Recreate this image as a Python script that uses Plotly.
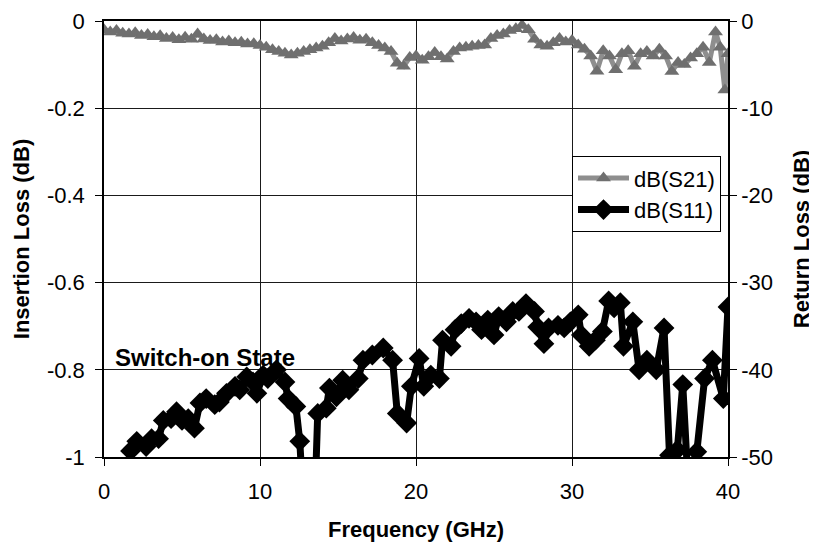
import plotly.graph_objects as go

# ---------------- data ----------------
s21_freq = [0.0, 0.4, 0.8, 1.2, 1.6, 2.0, 2.4, 2.8, 3.2, 3.6, 4.0, 4.4, 4.8, 5.2, 5.6,
            6.0, 6.4, 6.8, 7.2, 7.6, 8.0, 8.4, 8.8, 9.2, 9.6, 10.0, 10.4, 10.8, 11.2,
            11.6, 12.0, 12.4, 12.8, 13.2, 13.6, 14.0, 14.4, 14.8, 15.2, 15.6, 16.0,
            16.4, 16.8, 17.2, 17.6, 18.0, 18.4, 18.8, 19.2, 19.6, 20.0, 20.4, 20.8,
            21.2, 21.6, 22.0, 22.4, 22.8, 23.2, 23.6, 24.0, 24.4, 24.8, 25.2, 25.6,
            26.0, 26.4, 26.8, 27.2, 27.6, 28.0, 28.4, 28.8, 29.2, 29.6, 30.0, 30.4,
            30.8, 31.2, 31.6, 32.0, 32.4, 32.8, 33.2, 33.6, 34.0, 34.4, 34.8, 35.2,
            35.6, 36.0, 36.4, 36.8, 37.2, 37.6, 38.0, 38.4, 38.8, 39.2, 39.5, 39.8, 40.0]
s21_db = [-0.020, -0.025, -0.022, -0.028, -0.030, -0.027, -0.033, -0.031, -0.036, -0.034,
          -0.040, -0.038, -0.043, -0.037, -0.042, -0.030, -0.041, -0.045, -0.043, -0.048,
          -0.046, -0.050, -0.049, -0.053, -0.052, -0.056, -0.060, -0.066, -0.070, -0.074,
          -0.078, -0.074, -0.070, -0.066, -0.062, -0.058, -0.050, -0.040, -0.046, -0.041,
          -0.038, -0.044, -0.042, -0.050, -0.056, -0.062, -0.070, -0.097, -0.104, -0.084,
          -0.080, -0.090, -0.082, -0.072, -0.082, -0.087, -0.070, -0.062, -0.060, -0.058,
          -0.056, -0.055, -0.040, -0.033, -0.030, -0.022, -0.018, -0.010, -0.020, -0.042,
          -0.055, -0.058, -0.050, -0.040, -0.048, -0.045, -0.055, -0.065, -0.080, -0.115,
          -0.068, -0.080, -0.112, -0.075, -0.068, -0.104, -0.075, -0.070, -0.080, -0.065,
          -0.080, -0.116, -0.095, -0.100, -0.085, -0.075, -0.060, -0.095, -0.025, -0.060,
          -0.158, -0.075]

s11_freq = [1.2, 1.7, 2.1, 2.7, 3.05, 3.5, 3.8, 4.3, 4.65, 5.0, 5.4, 5.8, 6.15, 6.55, 7.1,
            7.4, 7.85, 8.4, 8.7, 9.15, 9.55, 9.8, 10.2, 10.5, 11.05, 11.6, 11.8, 12.3,
            12.55, 12.8, 13.5, 13.7, 14.25, 14.45, 14.9, 15.3, 15.7, 16.3, 16.6, 17.2,
            17.9, 18.5, 18.8, 19.4, 19.7, 20.2, 20.5, 20.95, 21.5, 21.7, 22.25, 22.5,
            22.9, 23.4, 23.85, 24.2, 24.6, 25.0, 25.3, 25.8, 26.2, 26.6, 27.05, 27.6,
            27.8, 28.2, 28.5, 29.1, 29.5, 29.9, 30.4, 30.6, 31.1, 31.5, 31.95, 32.35,
            32.7, 33.1, 33.3, 33.9, 34.3, 34.8, 35.4, 35.9, 36.25, 36.75, 37.1, 37.5,
            38.0, 38.5, 39.0, 39.7, 40.0]
s11_db = [-56.0, -49.3, -48.2, -48.8, -47.9, -47.9, -45.8, -45.6, -44.8, -45.8, -45.6,
          -46.7, -43.8, -43.3, -44.0, -43.7, -42.7, -41.9, -42.3, -40.8, -41.4, -42.7,
          -40.6, -41.0, -40.0, -41.4, -43.3, -44.2, -48.2, -56.0, -56.0, -45.0, -44.4,
          -42.1, -43.1, -41.2, -42.3, -41.0, -38.9, -38.3, -37.5, -38.9, -45.0, -46.1,
          -41.9, -38.7, -41.9, -40.6, -41.0, -36.6, -37.3, -35.4, -34.7, -34.1, -34.5,
          -35.4, -34.3, -36.0, -33.9, -34.5, -33.3, -33.3, -32.4, -33.3, -35.1, -37.0,
          -35.2, -34.9, -35.2, -34.5, -33.7, -36.0, -37.3, -36.6, -35.6, -32.1, -32.9,
          -32.3, -37.3, -34.5, -40.0, -38.9, -40.0, -35.2, -49.8, -49.2, -41.7, -55.0,
          -49.4, -41.0, -38.9, -43.3, -32.8]

x_ticks = [0, 10, 20, 30, 40]
x_tick_labels = ["0", "10", "20", "30", "40"]
left_ticks = [0, -0.2, -0.4, -0.6, -0.8, -1]
left_tick_labels = ["0", "-0.2", "-0.4", "-0.6", "-0.8", "-1"]
right_ticks = [0, -10, -20, -30, -40, -50]
right_tick_labels = ["0", "-10", "-20", "-30", "-40", "-50"]

FONT = "Liberation Sans, Arial, sans-serif"

fig = go.Figure()
fig.add_trace(go.Scatter(
    x=s21_freq, y=s21_db, name="dB(S21)", mode="lines+markers",
    line=dict(color="#8e8e8e", width=5),
    marker=dict(symbol="triangle-up", size=13, color="#6f6f6f"),
    yaxis="y",
))
fig.add_trace(go.Scatter(
    x=s11_freq, y=s11_db, name="dB(S11)", mode="lines+markers",
    line=dict(color="#000000", width=7),
    marker=dict(symbol="diamond", size=16, color="#000000"),
    yaxis="y2",
))

fig.add_annotation(
    x=0.58, y=-0.771, xref="x", yref="y", text="Switch-on State",
    showarrow=False, xanchor="left", yanchor="middle",
    font=dict(family=FONT, size=24, color="black", weight="bold"),
)

axis_common = dict(
    showline=True, linecolor="black", linewidth=1.5,
    ticks="outside", ticklen=7, tickcolor="black",
    tickfont=dict(family=FONT, size=22, color="black"),
    zeroline=False, automargin=False,
)

# the page body keeps an 8 px margin, so the figure is sized to fit the 817x543 window
fig.update_layout(
    width=809, height=535,
    margin=dict(l=96, r=89, t=13, b=86),
    paper_bgcolor="white", plot_bgcolor="white",
    font=dict(family=FONT, color="black"),
    xaxis=dict(
        range=[0, 40], tickvals=x_ticks, ticktext=x_tick_labels,
        showgrid=True, gridcolor="#1a1a1a", gridwidth=1, mirror=True,
        ticklabelstandoff=7,
        title=dict(text="Frequency (GHz)", standoff=18,
                   font=dict(family=FONT, size=22, color="black", weight="bold")),
        **axis_common,
    ),
    yaxis=dict(
        range=[-1, 0], tickvals=left_ticks, ticktext=left_tick_labels,
        showgrid=True, gridcolor="#1a1a1a", gridwidth=1,
        ticklabelstandoff=6,
        title=dict(text="Insertion Loss (dB)", standoff=11,
                   font=dict(family=FONT, size=22, color="black", weight="bold")),
        **axis_common,
    ),
    yaxis2=dict(
        range=[-50, 0], tickvals=right_ticks, ticktext=right_tick_labels,
        overlaying="y", side="right", showgrid=False,
        title=dict(text="Return Loss (dB)", standoff=22,
                   font=dict(family=FONT, size=22, color="black", weight="bold")),
        **axis_common,
    ),
    legend=dict(
        x=0.75, y=0.69, xanchor="left", yanchor="top",
        bgcolor="white", bordercolor="black", borderwidth=1,
        font=dict(family=FONT, size=22, color="black"),
        tracegroupgap=0, itemwidth=51,
    ),
    showlegend=True,
)

fig.write_html("out.html")
